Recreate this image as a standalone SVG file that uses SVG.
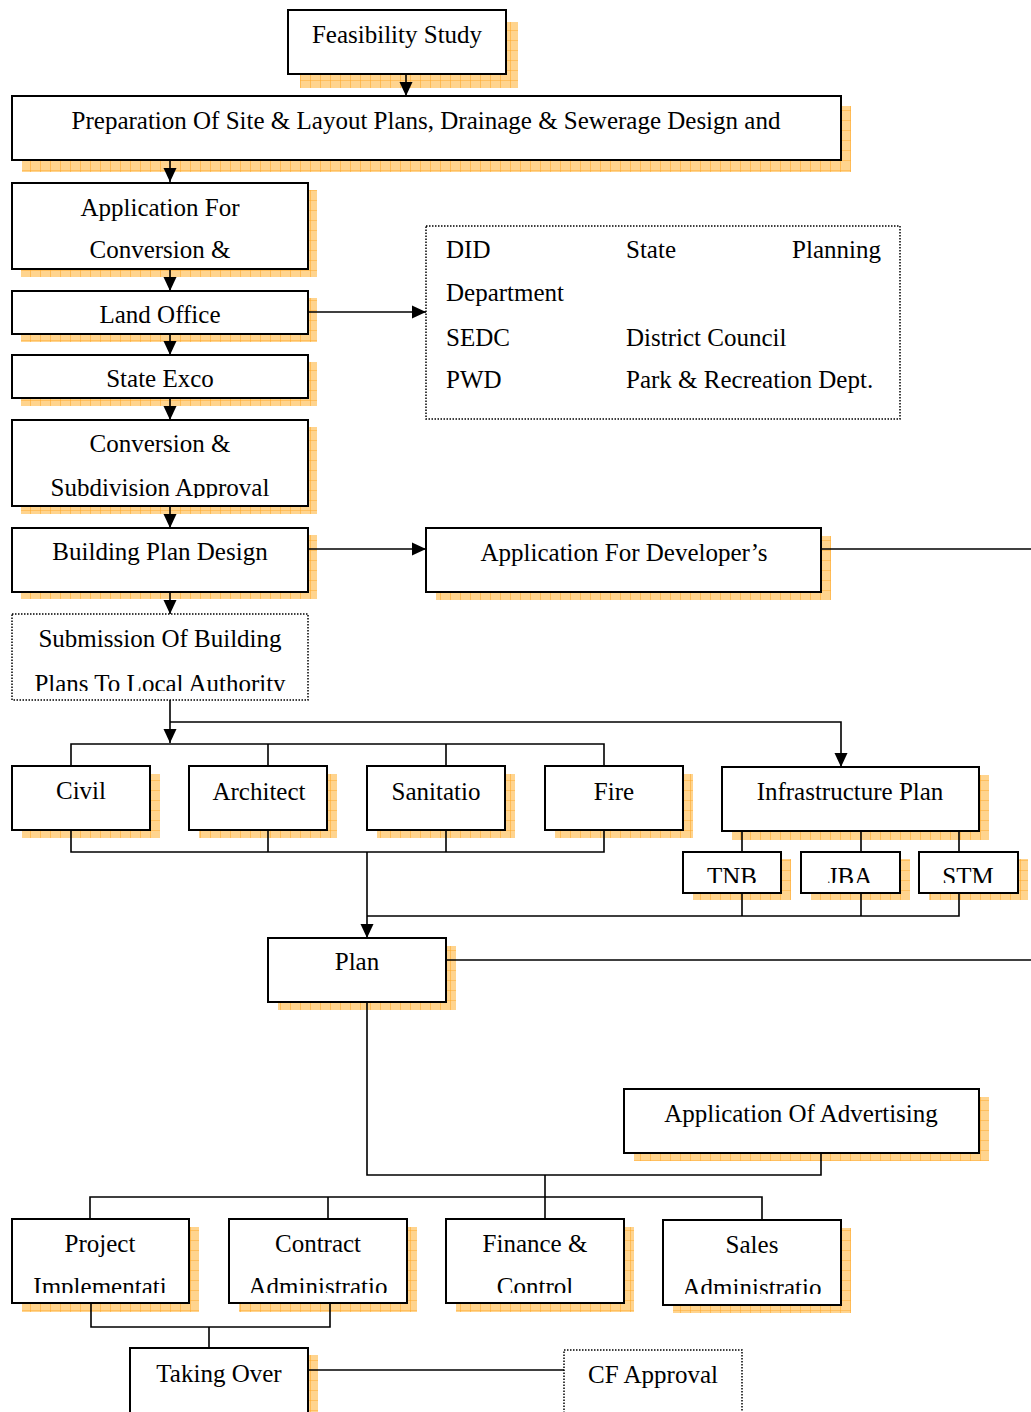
<svg xmlns="http://www.w3.org/2000/svg" width="1031" height="1412" viewBox="0 0 1031 1412">
<style>
.box{fill:#fff;stroke:#000;stroke-width:2}
.dot{fill:#fff;stroke:#000;stroke-width:1.5;stroke-dasharray:1.5 1.5}
.sh{fill:url(#grid)}
.t{font-family:"Liberation Serif","Times New Roman",serif;font-size:25px;fill:#000}
.c{text-anchor:middle}
.ln{fill:none;stroke:#000;stroke-width:1.6}
.ar{marker-end:url(#ah)}
</style>
<defs>
<pattern id="grid" width="10" height="10" patternUnits="userSpaceOnUse">
<rect width="10" height="10" fill="#FFD48E"/>
<path d="M0,0H10M0,0V10" stroke="#FFAA2E" stroke-width="1.2" fill="none"/>
</pattern>
<marker id="ah" viewBox="0 0 14 14" refX="14" refY="7" markerWidth="14" markerHeight="14" markerUnits="userSpaceOnUse" orient="auto">
<path d="M0,0.5L14,7L0,13.5z" fill="#000"/>
</marker>
<clipPath id="cApp"><rect x="12" y="183" width="296" height="80"/></clipPath>
<clipPath id="cConv"><rect x="12" y="420" width="296" height="78"/></clipPath>
<clipPath id="cSub"><rect x="12" y="614" width="296" height="77"/></clipPath>
<clipPath id="cTNB"><rect x="683" y="852" width="98" height="31"/></clipPath>
<clipPath id="cJBA"><rect x="801" y="852" width="99" height="31"/></clipPath>
<clipPath id="cSTM"><rect x="919" y="852" width="99" height="31"/></clipPath>
<clipPath id="cProj"><rect x="12" y="1219" width="177" height="74"/></clipPath>
<clipPath id="cCont"><rect x="229" y="1219" width="178" height="74"/></clipPath>
<clipPath id="cFin"><rect x="446" y="1219" width="178" height="74"/></clipPath>
<clipPath id="cSales"><rect x="663" y="1220" width="178" height="74"/></clipPath>
</defs>
<rect width="1031" height="1412" fill="#fff"/>

<g id="feasibility">
<rect class="sh" x="300" y="22" width="218" height="66"/>
<rect class="box" x="288" y="10" width="218" height="64"/>
<text class="t c" x="397" y="43">Feasibility Study</text>
</g>
<g id="preparation">
<rect class="sh" x="22" y="106" width="829" height="66"/>
<rect class="box" x="12" y="96" width="829" height="64"/>
<text class="t c" x="426" y="129">Preparation Of Site &amp; Layout Plans, Drainage &amp; Sewerage Design and</text>
</g>
<g id="application-conversion">
<rect class="sh" x="21" y="190" width="296" height="87"/>
<rect class="box" x="12" y="183" width="296" height="86"/>
<g clip-path="url(#cApp)">
<text class="t c" x="160" y="216">Application For</text>
<text class="t c" x="160" y="258">Conversion &amp;</text>
</g>
</g>
<g id="land-office">
<rect class="sh" x="21" y="298" width="296" height="44"/>
<rect class="box" x="12" y="291" width="296" height="43"/>
<text class="t c" x="160" y="323">Land Office</text>
</g>
<g id="did-box">
<rect class="dot" x="426" y="226" width="474" height="193"/>
<text class="t" x="446" y="258">DID</text>
<text class="t" x="626" y="258">State</text>
<text class="t" x="881" y="258" text-anchor="end">Planning</text>
<text class="t" x="446" y="301">Department</text>
<text class="t" x="446" y="346">SEDC</text>
<text class="t" x="626" y="346">District Council</text>
<text class="t" x="446" y="388">PWD</text>
<text class="t" x="626" y="388">Park &amp; Recreation Dept.</text>
</g>
<g id="state-exco">
<rect class="sh" x="21" y="362" width="296" height="44"/>
<rect class="box" x="12" y="355" width="296" height="43"/>
<text class="t c" x="160" y="387">State Exco</text>
</g>
<g id="conversion-approval">
<rect class="sh" x="21" y="427" width="296" height="87"/>
<rect class="box" x="12" y="420" width="296" height="86"/>
<g clip-path="url(#cConv)">
<text class="t c" x="160" y="452">Conversion &amp;</text>
<text class="t c" x="160" y="496">Subdivision Approval</text>
</g>
</g>
<g id="building-plan">
<rect class="sh" x="21" y="535" width="296" height="64"/>
<rect class="box" x="12" y="528" width="296" height="64"/>
<text class="t c" x="160" y="560">Building Plan Design</text>
</g>
<g id="developer">
<rect class="sh" x="436" y="536" width="395" height="64"/>
<rect class="box" x="426" y="528" width="395" height="64"/>
<text class="t c" x="624" y="561">Application For Developer’s</text>
</g>
<g id="submission">
<rect class="dot" x="12" y="614" width="296" height="86"/>
<g clip-path="url(#cSub)">
<text class="t c" x="160" y="647">Submission Of Building</text>
<text class="t c" x="160" y="692">Plans To Local Authority</text>
</g>
</g>
<g id="civil">
<rect class="sh" x="22" y="774" width="138" height="64"/>
<rect class="box" x="12" y="766" width="138" height="64"/>
<text class="t c" x="81" y="799">Civil</text>
</g>
<g id="architect">
<rect class="sh" x="199" y="774" width="138" height="64"/>
<rect class="box" x="189" y="766" width="138" height="64"/>
<text class="t c" x="259" y="800">Architect</text>
</g>
<g id="sanitatio">
<rect class="sh" x="377" y="774" width="138" height="64"/>
<rect class="box" x="367" y="766" width="138" height="64"/>
<text class="t c" x="436" y="800">Sanitatio</text>
</g>
<g id="fire">
<rect class="sh" x="555" y="774" width="138" height="64"/>
<rect class="box" x="545" y="766" width="138" height="64"/>
<text class="t c" x="614" y="800">Fire</text>
</g>
<g id="infrastructure">
<rect class="sh" x="732" y="775" width="257" height="65"/>
<rect class="box" x="722" y="767" width="257" height="64"/>
<text class="t c" x="850" y="800">Infrastructure Plan</text>
</g>
<g id="tnb">
<rect class="sh" x="693" y="859" width="98" height="41"/>
<rect class="box" x="683" y="852" width="98" height="41"/>
<text class="t c" clip-path="url(#cTNB)" x="732" y="885">TNB</text>
</g>
<g id="jba">
<rect class="sh" x="811" y="859" width="99" height="41"/>
<rect class="box" x="801" y="852" width="99" height="41"/>
<text class="t c" clip-path="url(#cJBA)" x="850" y="885">JBA</text>
</g>
<g id="stm">
<rect class="sh" x="929" y="859" width="99" height="41"/>
<rect class="box" x="919" y="852" width="99" height="41"/>
<text class="t c" clip-path="url(#cSTM)" x="968" y="885">STM</text>
</g>
<g id="plan">
<rect class="sh" x="278" y="946" width="178" height="64"/>
<rect class="box" x="268" y="938" width="178" height="64"/>
<text class="t c" x="357" y="970">Plan</text>
</g>
<g id="advertising">
<rect class="sh" x="634" y="1097" width="355" height="64"/>
<rect class="box" x="624" y="1089" width="355" height="64"/>
<text class="t c" x="801" y="1122">Application Of Advertising</text>
</g>
<g id="project">
<rect class="sh" x="22" y="1227" width="177" height="85"/>
<rect class="box" x="12" y="1219" width="177" height="84"/>
<g clip-path="url(#cProj)">
<text class="t c" x="100" y="1252">Project</text>
<text class="t c" x="100" y="1295">Implementati</text>
</g>
</g>
<g id="contract">
<rect class="sh" x="239" y="1227" width="178" height="85"/>
<rect class="box" x="229" y="1219" width="178" height="84"/>
<g clip-path="url(#cCont)">
<text class="t c" x="318" y="1252">Contract</text>
<text class="t c" x="318" y="1295">Administratio</text>
</g>
</g>
<g id="finance">
<rect class="sh" x="456" y="1227" width="178" height="85"/>
<rect class="box" x="446" y="1219" width="178" height="84"/>
<g clip-path="url(#cFin)">
<text class="t c" x="535" y="1252">Finance &amp;</text>
<text class="t c" x="535" y="1295">Control</text>
</g>
</g>
<g id="sales">
<rect class="sh" x="673" y="1228" width="178" height="85"/>
<rect class="box" x="663" y="1220" width="178" height="85"/>
<g clip-path="url(#cSales)">
<text class="t c" x="752" y="1253">Sales</text>
<text class="t c" x="752" y="1296">Administratio</text>
</g>
</g>
<g id="taking-over">
<rect class="sh" x="140" y="1355" width="178" height="70"/>
<rect class="box" x="130" y="1348" width="178" height="80"/>
<text class="t c" x="219" y="1382">Taking Over</text>
</g>
<g id="cf-approval">
<rect class="dot" x="564" y="1350" width="178" height="80"/>
<text class="t c" x="653" y="1383">CF Approval</text>
</g>

<g id="connectors">
<path class="ln ar" d="M406,74V96"/>
<path class="ln ar" d="M170,160V182"/>
<path class="ln ar" d="M170,269V291"/>
<path class="ln ar" d="M308,312H426"/>
<path class="ln ar" d="M170,334V355"/>
<path class="ln ar" d="M170,398V420"/>
<path class="ln ar" d="M170,506V528"/>
<path class="ln ar" d="M308,549H426"/>
<path class="ln" d="M821,549H1031"/>
<path class="ln ar" d="M170,592V614"/>
<path class="ln ar" d="M170,700V743"/>
<path class="ln ar" d="M170,722H841V767"/>
<path class="ln" d="M71,766V744H604V766M268,744V766M446,744V766"/>
<path class="ln" d="M71,830V852H604V830M268,830V852M446,830V852"/>
<path class="ln ar" d="M367,852V938"/>
<path class="ln" d="M742,831V852M861,831V852M959,831V852"/>
<path class="ln" d="M742,893V916H959V893M861,893V916M367,916H742"/>
<path class="ln" d="M446,960H1031"/>
<path class="ln" d="M367,1002V1175H821V1153"/>
<path class="ln" d="M545,1175V1197"/>
<path class="ln" d="M90,1219V1197H762V1220M328,1197V1219M545,1197V1219"/>
<path class="ln" d="M91,1303V1327H330V1303M209,1327V1348"/>
<path class="ln" d="M308,1370H564"/>
</g>
</svg>
